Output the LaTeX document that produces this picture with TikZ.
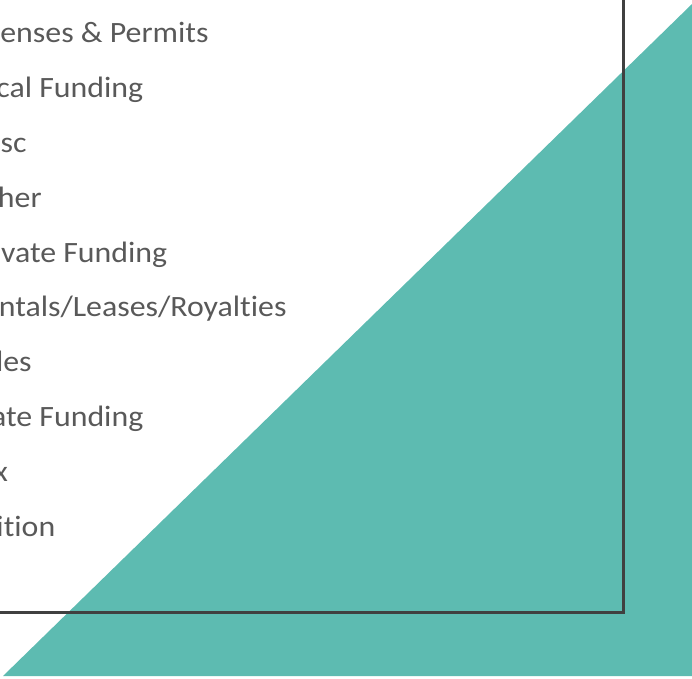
\documentclass[tikz,border=0pt]{standalone}
\usepackage{fontspec}
\setmainfont{Carlito}[Ligatures=NoCommon,FakeStretch=1.08]
\definecolor{teal}{HTML}{5DBBB1}
\definecolor{frame}{HTML}{404040}
\definecolor{txt}{HTML}{595959}
\begin{document}
\begin{tikzpicture}
[x=1pt,y=-1pt,
 item/.style={anchor=base west,inner sep=0pt,text=txt,
              font=\fontsize{29.5}{32}\selectfont}]
\useasboundingbox (0,0) rectangle (692,678);
\clip (0,0) rectangle (692,678);
% background wedge
\fill[teal] (3,676) -- (692,676) -- (692,4) -- cycle;
% frame
\draw[frame,line width=3pt] (-20,-20) rectangle (623,612);
% items
\node[item] (lic)  at (-34,42.8)  {Licenses \& Permits};
\node[item] (loc)  at (-34,97.6)  {Local Funding};
\node[item] (misc) at (-34,152.4) {Misc};
\node[item] (oth)  at (-34,207.2) {Other};
\node[item] (priv) at (-34,262.0) {Private Funding};
\node[item] (rent) at (-34,316.8) {Rentals/Leases/Royalties};
\node[item] (sale) at (-34,371.6) {Sales};
\node[item] (stat) at (-34,426.4) {State Funding};
\node[item] (tax)  at (-34,481.2) {Tax};
\node[item] (tui)  at (-34,536.0) {Tuition};
\end{tikzpicture}
\end{document}
